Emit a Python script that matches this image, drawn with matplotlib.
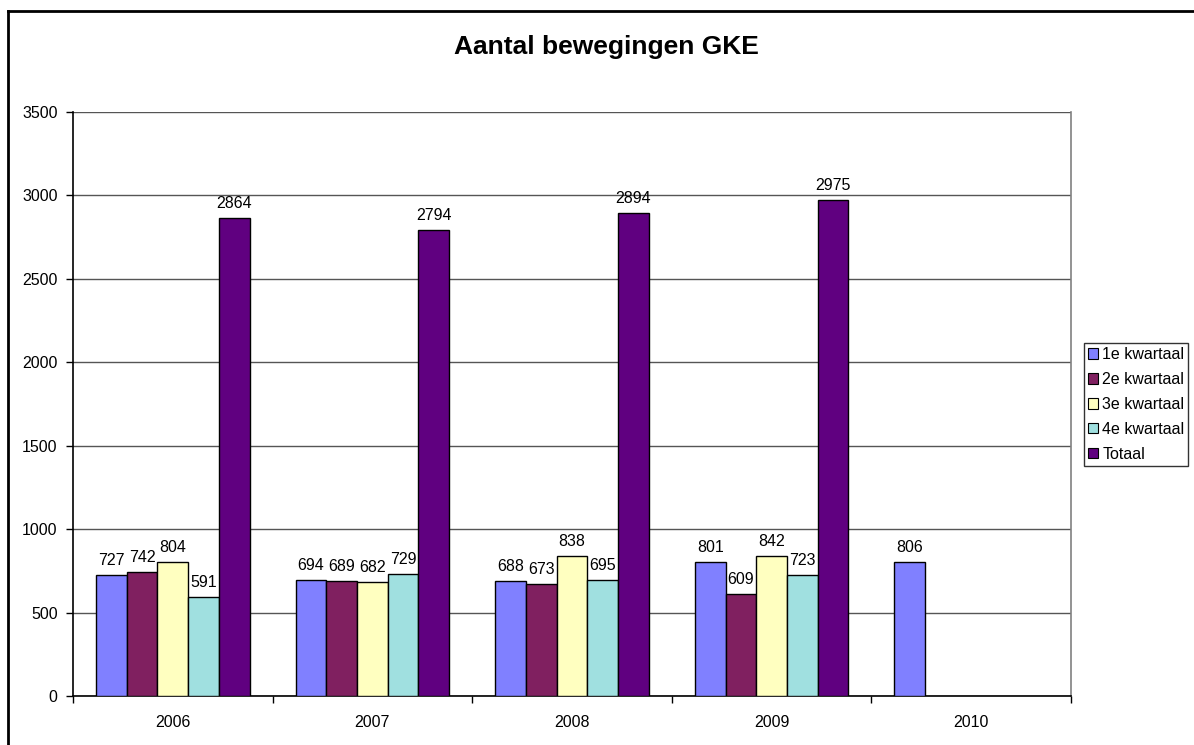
#
# Aantal bewegingen GKE - clustered bar chart per year
#
import numpy as np
import matplotlib.pyplot as plt
from matplotlib.patches import Patch
from matplotlib.lines import Line2D

years = ['2006', '2007', '2008', '2009', '2010']
series_names = ['1e kwartaal', '2e kwartaal', '3e kwartaal', '4e kwartaal', 'Totaal']
kw1 = [727, 694, 688, 801, 806]
kw2 = [742, 689, 673, 609, None]
kw3 = [804, 682, 838, 842, None]
kw4 = [591, 729, 695, 723, None]
totaal = [2864, 2794, 2894, 2975, None]
colors = ['#8080FF', '#802060', '#FFFFC0', '#A0E0E0', '#600080']
yticks = [0, 500, 1000, 1500, 2000, 2500, 3000, 3500]

series = [kw1, kw2, kw3, kw4, totaal]

plt.rcParams['font.family'] = ['Liberation Sans', 'DejaVu Sans']
fs = 11.5

fig = plt.figure(figsize=(11.94, 7.45), dpi=100)
ax = fig.add_axes([73/1194, 1 - 696/745, (1071 - 73)/1194, (696 - 112)/745])

# excel style: gap width 150%
n = len(series)
bw = 1.0 / (n + 1.5)
for j, (vals, col) in enumerate(zip(series, colors)):
    for i, v in enumerate(vals):
        if v is None:
            continue
        x = i + 0.75 * bw + j * bw
        ax.bar(x, v, width=bw, align='edge', color=col, edgecolor='black',
               linewidth=1.0, zorder=3)
        ax.annotate(str(v), (x + bw / 2, v), xytext=(0, 5), textcoords='offset points',
                    ha='center', va='bottom', fontsize=fs, zorder=4)

ax.set_xlim(0, len(years))
ax.set_ylim(0, 3500)
ax.set_yticks(yticks)
ax.set_yticklabels([str(t) for t in yticks], fontsize=fs)
ax.set_xticks(np.arange(0, len(years) + 1))
ax.set_xticklabels([])
ax.set_xticks(np.arange(len(years)) + 0.5, minor=True)
ax.set_xticklabels(years, minor=True, fontsize=fs)
ax.tick_params(axis='x', which='major', direction='out', length=5, width=1, color='black')
ax.tick_params(axis='x', which='minor', length=0, pad=14)
ax.tick_params(axis='y', direction='out', length=5, width=1, pad=6)

ax.grid(axis='y', color='#555555', linewidth=1.0, zorder=0)
for s in ['left', 'bottom']:
    ax.spines[s].set_color('black')
    ax.spines[s].set_linewidth(1.2)
ax.spines['top'].set_visible(False)
ax.spines['right'].set_color('#808080')
ax.spines['right'].set_linewidth(1.2)

fig.text(606/1194, 1 - 47/745, 'Aantal bewegingen GKE', ha='center', va='center',
         fontsize=19, fontweight='bold')

handles = [Patch(facecolor=c, edgecolor='black', linewidth=0.8) for c in colors]
leg = fig.legend(handles, series_names, loc='upper left',
                 bbox_to_anchor=(1084/1194, 1 - 343/745), fontsize=fs,
                 frameon=True, fancybox=False, edgecolor='black',
                 handlelength=0.65, handleheight=0.65, handletextpad=0.25,
                 borderpad=0.25, labelspacing=0.62, borderaxespad=0)
leg.get_frame().set_linewidth(1.0)

# outer chart frame (top and left edge visible)
fig.add_artist(Line2D([8/1194, 1], [1 - 11/745, 1 - 11/745], color='black', linewidth=2))
fig.add_artist(Line2D([8/1194, 8/1194], [0, 1 - 11/745], color='black', linewidth=2))

plt.savefig('out.png', dpi=100)
